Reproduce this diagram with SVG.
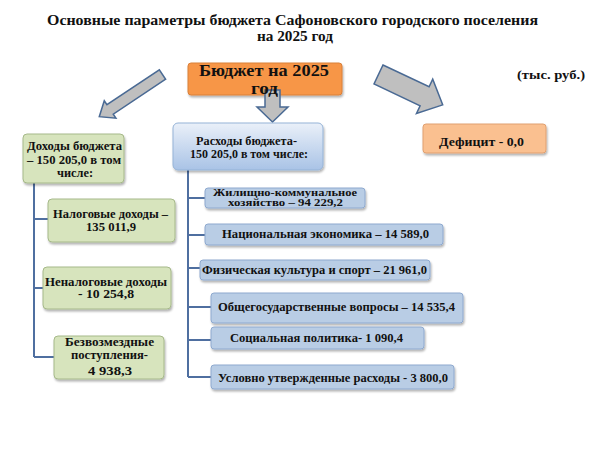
<svg xmlns="http://www.w3.org/2000/svg" width="600" height="450" viewBox="0 0 600 450">
<defs>
<filter id="sh" x="-10%" y="-10%" width="130%" height="140%">
<feDropShadow dx="1" dy="2" stdDeviation="1.3" flood-color="#000" flood-opacity="0.3"/>
</filter>
<linearGradient id="blueGrad" x1="0" y1="0" x2="0" y2="1">
<stop offset="0" stop-color="#EAF0F9"/>
<stop offset="1" stop-color="#A9C3E6"/>
</linearGradient>
<style>
text{font-family:"Liberation Serif","DejaVu Serif",serif;font-weight:bold;fill:#111;text-anchor:middle}
.t{font-size:14px}
.big{font-size:16px}
.s{font-size:11.5px}
.xs{font-size:10.5px}
.green{fill:#D7E4BD;stroke:#A6B98A;stroke-width:1}
.blue{fill:#B9CDE5;stroke:#8EA9CF;stroke-width:1}
.head{fill:url(#blueGrad);stroke:#95B3D7;stroke-width:1}
.orange{fill:#F79646;stroke:#D9803A;stroke-width:1}
.peach{fill:#FAC090;stroke:#E0A070;stroke-width:1}
.arrow{fill:#BFBFBF;stroke:#4A6A94;stroke-width:1.5;stroke-linejoin:miter}
.conn{fill:none;stroke:#4F6FA0;stroke-width:2}
</style>
</defs>
<rect width="600" height="450" fill="#fff"/>
<g id="title">
<text class="t" x="292.5" y="25" textLength="491" lengthAdjust="spacingAndGlyphs">Основные параметры бюджета Сафоновского городского поселения</text>
<text class="t" x="295" y="41" textLength="76" lengthAdjust="spacingAndGlyphs">на 2025 год</text>
</g>
<g id="units">
<text class="s" x="551" y="79" textLength="68" lengthAdjust="spacingAndGlyphs">(тыс. руб.)</text>
</g>
<g id="arrows">
<polygon class="arrow" transform="translate(162.5,74.5) rotate(146.3)" points="0,-5.7 63,-5.7 63,-10.5 76,0 63,10.5 63,5.7 0,5.7"/>
<polygon class="arrow" transform="translate(378.5,74.5) rotate(25.3)" points="0,-10.5 51,-10.5 51,-19 71,0 51,19 51,10.5 0,10.5"/>
</g>
<g id="connectors">
<path class="conn" d="M34,183 V357 M34,219 H48 M34,288 H43 M34,357 H54"/>
<path class="conn" d="M188,170 V377 M188,198 H205 M188,235 H205 M188,268 H200 M188,307 H211 M188,340 H211 M188,377 H211"/>
</g>
<g id="budget">
<rect class="orange" x="188" y="63" width="154" height="32" rx="3" filter="url(#sh)"/>
<text class="big" x="264" y="76" textLength="130" lengthAdjust="spacingAndGlyphs">Бюджет на 2025</text>
</g>
<g id="down-arrow">
<polygon class="arrow" points="265,90 280,90 280,107 288,107 272.5,122 257,107 265,107"/>
</g>
<g id="budget-label2">
<text class="big" x="264.5" y="93.5" textLength="27" lengthAdjust="spacingAndGlyphs">год</text>
</g>
<g id="deficit">
<rect class="peach" x="423" y="124" width="123" height="29" rx="3" filter="url(#sh)"/>
<text class="s" x="481.5" y="146" textLength="85" lengthAdjust="spacingAndGlyphs">Дефицит - 0,0</text>
</g>
<g id="income">
<rect class="green" x="23" y="134" width="101" height="49" rx="4" filter="url(#sh)"/>
<text class="s" x="74.5" y="150" textLength="95" lengthAdjust="spacingAndGlyphs">Доходы бюджета</text>
<text class="s" x="74" y="164" textLength="94" lengthAdjust="spacingAndGlyphs">– 150 205,0 в том</text>
<text class="s" x="75" y="177" textLength="36" lengthAdjust="spacingAndGlyphs">числе:</text>
</g>
<g id="tax">
<rect class="green" x="48" y="199" width="127" height="43" rx="4" filter="url(#sh)"/>
<text class="s" x="110.5" y="218" textLength="115" lengthAdjust="spacingAndGlyphs">Налоговые доходы –</text>
<text class="s" x="111" y="231" textLength="50" lengthAdjust="spacingAndGlyphs">135 011,9</text>
</g>
<g id="nontax">
<rect class="green" x="43" y="267" width="128" height="42" rx="4" filter="url(#sh)"/>
<text class="s" x="106" y="286" textLength="122" lengthAdjust="spacingAndGlyphs">Неналоговые доходы</text>
<text class="s" x="106" y="298" textLength="56" lengthAdjust="spacingAndGlyphs">-  10 254,8</text>
</g>
<g id="grants">
<rect class="green" x="54" y="336" width="110" height="43" rx="4" filter="url(#sh)"/>
<text class="s" x="109.5" y="346" textLength="89" lengthAdjust="spacingAndGlyphs">Безвозмездные</text>
<text class="s" x="109.5" y="359" textLength="77" lengthAdjust="spacingAndGlyphs">поступления-</text>
<text class="s" x="110" y="375" textLength="44" lengthAdjust="spacingAndGlyphs">4 938,3</text>
</g>
<g id="expenses">
<rect class="head" x="173" y="123" width="150" height="47" rx="5" filter="url(#sh)"/>
<text class="s" x="246.5" y="145" textLength="101" lengthAdjust="spacingAndGlyphs">Расходы бюджета-</text>
<text class="s" x="249" y="158" textLength="118" lengthAdjust="spacingAndGlyphs">150 205,0 в том числе:</text>
</g>
<g id="housing">
<rect class="blue" x="205" y="188" width="160" height="20" rx="3" filter="url(#sh)"/>
<text class="xs" x="285" y="196" textLength="144" lengthAdjust="spacingAndGlyphs">Жилищно-коммунальное</text>
<text class="xs" x="285.5" y="206" textLength="115" lengthAdjust="spacingAndGlyphs">хозяйство – 94 229,2</text>
</g>
<g id="economy">
<rect class="blue" x="205" y="224" width="238" height="21" rx="3" filter="url(#sh)"/>
<text class="s" x="325.5" y="238" textLength="207" lengthAdjust="spacingAndGlyphs">Национальная экономика – 14 589,0</text>
</g>
<g id="sport">
<rect class="blue" x="200" y="260" width="230" height="20" rx="3" filter="url(#sh)"/>
<text class="s" x="314.5" y="274" textLength="225" lengthAdjust="spacingAndGlyphs">Физическая культура и спорт – 21 961,0</text>
</g>
<g id="general">
<rect class="blue" x="211" y="293" width="252" height="30" rx="3" filter="url(#sh)"/>
<text class="s" x="336.5" y="311" textLength="237" lengthAdjust="spacingAndGlyphs">Общегосударственные вопросы – 14 535,4</text>
</g>
<g id="social">
<rect class="blue" x="211" y="327" width="213" height="22" rx="3" filter="url(#sh)"/>
<text class="s" x="316.5" y="342" textLength="173" lengthAdjust="spacingAndGlyphs">Социальная политика-  1 090,4</text>
</g>
<g id="conditional">
<rect class="blue" x="211" y="365" width="243" height="24" rx="3" filter="url(#sh)"/>
<text class="s" x="333" y="382" textLength="230" lengthAdjust="spacingAndGlyphs">Условно утвержденные расходы  - 3 800,0</text>
</g>
</svg>
